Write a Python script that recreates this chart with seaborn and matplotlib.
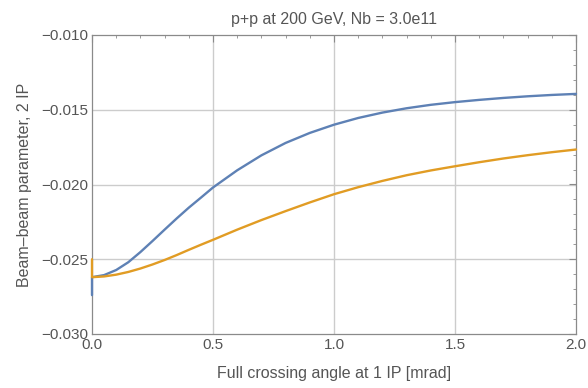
import matplotlib
matplotlib.use("Agg")
import matplotlib.pyplot as plt
import seaborn as sns
import pandas as pd
from matplotlib.ticker import MultipleLocator, FuncFormatter

# Data
blue_x = [0.0, 0.0, 0.05, 0.1, 0.15, 0.2, 0.25, 0.3, 0.35, 0.4, 0.45, 0.5, 0.6, 0.7, 0.8, 0.9,
          1.0, 1.1, 1.2, 1.3, 1.4, 1.5, 1.6, 1.7, 1.8, 1.9, 2.0]
blue_y = [-0.0274, -0.0262, -0.02606, -0.02572, -0.0252, -0.02452, -0.02378, -0.02302, -0.02227,
          -0.02155, -0.02088, -0.0202, -0.01905, -0.01805, -0.01722, -0.01655, -0.0160, -0.01555,
          -0.01519, -0.0149, -0.01467, -0.01449, -0.01434, -0.01421, -0.0141, -0.01401, -0.01394]
orange_x = [0.0, 0.0, 0.05, 0.1, 0.15, 0.2, 0.25, 0.3, 0.35, 0.4, 0.45, 0.5, 0.6, 0.7, 0.8, 0.9,
            1.0, 1.1, 1.2, 1.3, 1.4, 1.5, 1.6, 1.7, 1.8, 1.9, 2.0]
orange_y = [-0.0250, -0.0262, -0.02615, -0.02603, -0.02585, -0.02562, -0.02535, -0.02505, -0.02472,
            -0.02437, -0.02403, -0.0237, -0.02302, -0.02238, -0.02178, -0.0212, -0.02065, -0.02018,
            -0.01976, -0.01938, -0.01906, -0.01878, -0.01851, -0.01826, -0.01804, -0.01784, -0.01766]

title = "p+p at 200 GeV, Nb = 3.0e11"
xlabel = "Full crossing angle at 1 IP [mrad]"
ylabel = "Beam\u2013beam parameter, 2 IP"

sns.set_style("white")
plt.rcParams['font.family'] = ['Liberation Sans', 'DejaVu Sans']

gray = "#555555"
frame = "#8a8a8a"

fig = plt.figure(figsize=(5.88, 3.88), dpi=100)
ax = fig.add_axes([92/588, 1-334/388, (576-92)/588, (334-35)/388])

df_b = pd.DataFrame({"x": blue_x, "y": blue_y})
df_o = pd.DataFrame({"x": orange_x, "y": orange_y})
sns.lineplot(data=df_b, x="x", y="y", ax=ax, color="#5E81B5", lw=1.7, estimator=None, sort=False)
sns.lineplot(data=df_o, x="x", y="y", ax=ax, color="#E19C24", lw=1.7, estimator=None, sort=False)
for ln in ax.lines:
    ln.set_clip_on(False)
    ln.set_zorder(3)
    ln.set_solid_joinstyle("round")

ax.set_xlim(0, 2.0)
ax.set_ylim(-0.030, -0.010)
ax.xaxis.set_major_locator(MultipleLocator(0.5))
ax.xaxis.set_minor_locator(MultipleLocator(0.1))
ax.yaxis.set_major_locator(MultipleLocator(0.005))
ax.yaxis.set_minor_locator(MultipleLocator(0.001))
ax.xaxis.set_major_formatter(FuncFormatter(lambda v, p: f"{v:.1f}"))
ax.yaxis.set_major_formatter(FuncFormatter(lambda v, p: f"{v:.3f}".replace("-", "\u2212")))

for v in [0.5, 1.0, 1.5]:
    ax.axvline(v, color="#cccccc", lw=1.0, zorder=0)
for v in [-0.015, -0.020, -0.025]:
    ax.axhline(v, color="#cccccc", lw=1.0, zorder=0)

for s in ax.spines.values():
    s.set_visible(True)
    s.set_color(frame)
    s.set_linewidth(0.9)
    s.set_zorder(2.5)

ax.tick_params(which="both", direction="in", top=True, right=True, color=frame,
               labelcolor=gray, labelsize=11)
ax.tick_params(which="major", length=5, width=0.8)
ax.tick_params(which="minor", length=2.5, width=0.6)
ax.tick_params(axis="x", pad=3)
ax.tick_params(axis="y", pad=3)

ax.set_xlabel(xlabel, color=gray, fontsize=11.5, labelpad=10)
ax.set_ylabel(ylabel, color=gray, fontsize=11.5, labelpad=6)
ax.set_title(title, color=gray, fontsize=11.5, pad=8)

fig.savefig("out.png", dpi=100)
